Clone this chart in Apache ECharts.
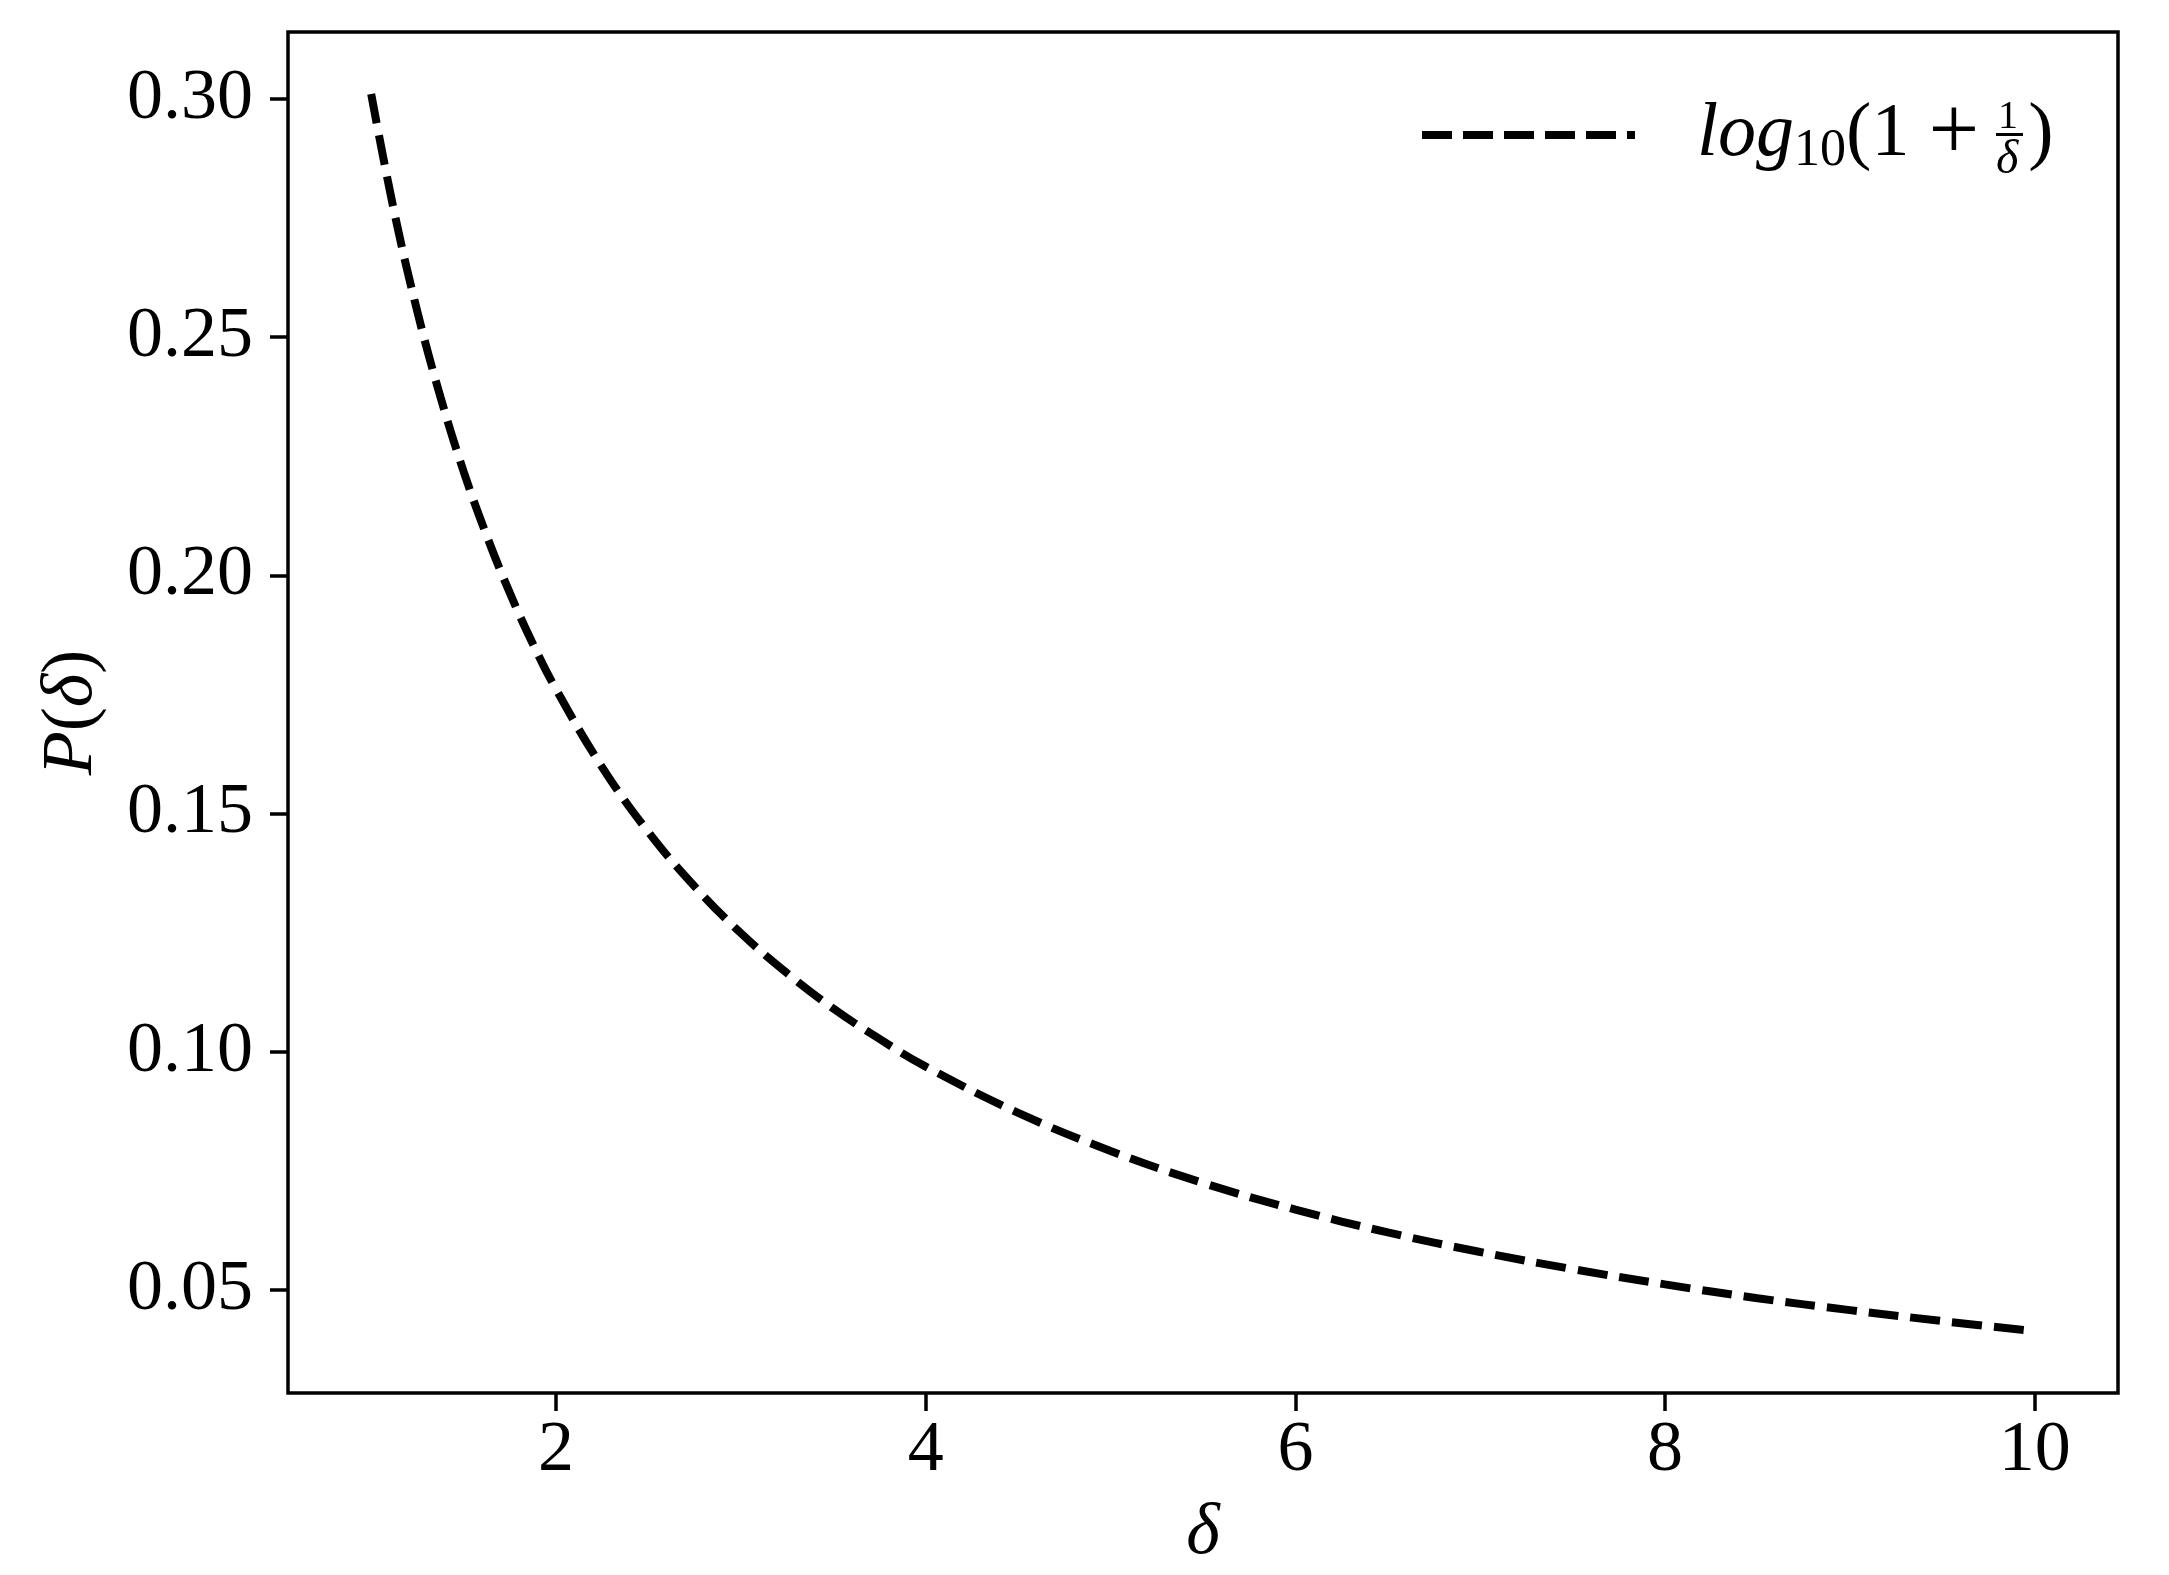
<!DOCTYPE html>
<html>
<head>
<meta charset="utf-8">
<script src="https://cdn.jsdelivr.net/npm/echarts@6/dist/echarts.min.js"></script>
<style>html,body{margin:0;padding:0;background:#fff;}#c{width:2169px;height:1575px;}</style>
</head>
<body>
<div id="c"></div>
<script>
const deltaValues = [1, 1.125, 1.25, 1.375, 1.5, 1.625, 1.75, 1.875, 2, 2.25, 2.5, 2.75, 3, 3.25, 3.5, 3.75, 4, 4.5, 5, 5.5, 6, 6.5, 7, 7.5, 8, 8.5, 9, 9.5, 10];
const probValues = [0.3010, 0.2762, 0.2553, 0.2374, 0.2218, 0.2083, 0.1963, 0.1856, 0.1761, 0.1597, 0.1461, 0.1347, 0.1249, 0.1165, 0.1091, 0.1027, 0.0969, 0.0872, 0.0792, 0.0725, 0.0669, 0.0621, 0.0580, 0.0544, 0.0512, 0.0483, 0.0458, 0.0435, 0.0414];
const xTicks = [2, 4, 6, 8, 10];
const yTicks = [0.05, 0.10, 0.15, 0.20, 0.25, 0.30];
const seriesName = 'log10(1 + 1/δ)';

const FONT = 'Liberation Serif';
const chart = echarts.init(document.getElementById('c'));
const data = deltaValues.map((d, i) => [d, probValues[i]]);

chart.setOption({
  animation: false,
  backgroundColor: '#fff',
  grid: {left: 288, right: 51, top: 32, bottom: 182, show: true, borderColor: '#000', borderWidth: 3.5, containLabel: false},
  xAxis: {
    type: 'value', min: 0.55, max: 10.45,
    name: '{i|δ}', nameLocation: 'middle', nameGap: 105,
    nameTextStyle: {rich: {i: {fontFamily: FONT, fontStyle: 'italic', fontSize: 72, color: '#000'}}},
    axisLine: {show: false},
    splitLine: {show: false},
    axisTick: {show: true, customValues: xTicks, length: 18, lineStyle: {color: '#000', width: 3.5}},
    axisLabel: {customValues: xTicks, margin: 22, fontFamily: FONT, fontSize: 72, color: '#000'}
  },
  yAxis: {
    type: 'value', min: 0.02841, max: 0.31401,
    name: '{i|P}{n|(}{i|δ}{n|)}', nameLocation: 'middle', nameGap: 180, nameRotate: 90,
    nameTextStyle: {rich: {
      i: {fontFamily: FONT, fontStyle: 'italic', fontSize: 72, color: '#000'},
      n: {fontFamily: FONT, fontSize: 72, color: '#000'}
    }},
    axisLine: {show: false},
    splitLine: {show: false},
    axisTick: {show: true, customValues: yTicks, length: 18, lineStyle: {color: '#000', width: 3.5}},
    axisLabel: {customValues: yTicks, margin: 35, fontFamily: FONT, fontSize: 72, color: '#000',
      formatter: v => v.toFixed(2)}
  },
  legend: {
    show: true, left: 1422, top: 90, padding: 0,
    itemWidth: 213, itemHeight: 8,
    data: [{name: seriesName, icon: 'path://M0 0h30v8h-30z M41 0h30v8h-30z M82 0h30v8h-30z M123 0h30v8h-30z M164 0h30v8h-30z M205 0h8v8h-8z', itemStyle: {color: '#000'}}],
    formatter: () => '{sp| }{it|log}{sub|10}{n|(1 }{pl|+}{n| }{fr| }{n|)}',
    textStyle: {
      rich: {
        sp: {width: 57, lineHeight: 84, fontSize: 20},
        it: {fontFamily: FONT, fontStyle: 'italic', fontSize: 76, lineHeight: 84, color: '#000'},
        sub: {fontFamily: FONT, fontSize: 52, lineHeight: 52, verticalAlign: 'bottom', color: '#000'},
        n: {fontFamily: FONT, fontSize: 76, lineHeight: 84, color: '#000'},
        pl: {fontFamily: FONT, fontSize: 90, lineHeight: 84, color: '#000'},
        fr: {width: 30, lineHeight: 84, fontSize: 20}
      }
    }
  },
  graphic: [
    {type: 'text', left: 1998, top: 97, style: {text: '1', fontFamily: FONT, fontSize: 40, fill: '#000'}},
    {type: 'rect', shape: {x: 1996, y: 133, width: 27, height: 3}, style: {fill: '#000'}},
    {type: 'text', left: 1996, top: 136, style: {text: 'δ', fontFamily: FONT, fontStyle: 'italic', fontSize: 48, fill: '#000'}}
  ],
  series: [{
    name: seriesName, type: 'line', data: data,
    smooth: 0.4, showSymbol: false, symbol: 'none',
    lineStyle: {color: '#000', width: 8, type: [30, 12], cap: 'butt'},
    itemStyle: {color: '#000'}
  }]
});
</script>
</body>
</html>
